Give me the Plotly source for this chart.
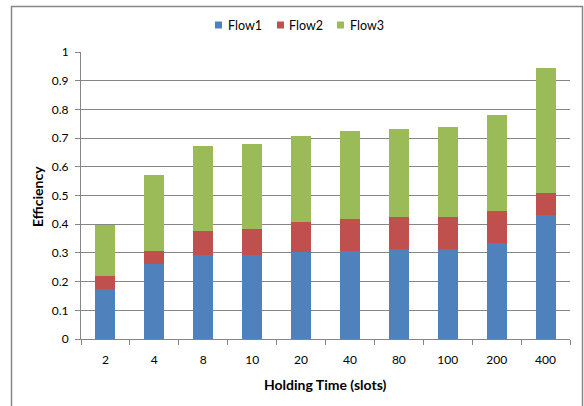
import plotly.graph_objects as go

categories = ["2", "4", "8", "10", "20", "40", "80", "100", "200", "400"]
flow1 = [0.174, 0.262, 0.294, 0.294, 0.304, 0.308, 0.312, 0.315, 0.334, 0.433]
flow2 = [0.046, 0.045, 0.083, 0.089, 0.104, 0.111, 0.113, 0.110, 0.113, 0.076]
flow3 = [0.178, 0.265, 0.297, 0.295, 0.300, 0.306, 0.307, 0.312, 0.334, 0.434]
series_names = ["Flow1", "Flow2", "Flow3"]
y_ticks = [0, 0.1, 0.2, 0.3, 0.4, 0.5, 0.6, 0.7, 0.8, 0.9, 1]
y_tick_labels = ["0", "0.1", "0.2", "0.3", "0.4", "0.5", "0.6", "0.7", "0.8", "0.9", "1"]

FONT = "Lato"
COLORS = ["#4F81BD", "#C0504D", "#9BBB59"]
W, H = 584, 406
L, R, T, B = 81, 14, 52, 67
PW, PH = W - L - R, H - T - B


def px_x(p):
    return (p - L) / PW


def px_y(p):
    return (H - B - p) / PH


fig = go.Figure()
for name, vals, col in zip(series_names, [flow1, flow2, flow3], COLORS):
    fig.add_trace(go.Bar(x=categories, y=vals, name=name, showlegend=False,
                         marker=dict(color=col, line=dict(width=0))))

# legend (Excel-style compact legend): small squares + labels
legend_sq_left = [215, 277, 337]
legend_txt_left = [226, 287, 348]
shapes = [dict(type="rect", xref="paper", yref="paper",
               x0=px_x(11.5), x1=px_x(582.5), y0=px_y(6.5), y1=px_y(412),
               line=dict(color="#868686", width=1.5), layer="below")]
annotations = [
    dict(text="<b>Holding Time (slots)</b>", xref="paper", yref="paper",
         x=px_x(325), y=px_y(384), xanchor="center", yanchor="middle",
         showarrow=False, font=dict(family=FONT, size=14)),
    dict(text="<b>Efficiency</b>", xref="paper", yref="paper",
         x=px_x(37), y=px_y(197), xanchor="center", yanchor="middle",
         textangle=-90, showarrow=False, font=dict(family=FONT, size=14)),
]
for name, col, sx, tx in zip(series_names, COLORS, legend_sq_left, legend_txt_left):
    shapes.append(dict(type="rect", xref="paper", yref="paper",
                       x0=px_x(sx), x1=px_x(sx + 7), y0=px_y(21.5), y1=px_y(28.5),
                       fillcolor=col, line=dict(width=0)))
    annotations.append(dict(text=name, xref="paper", yref="paper",
                            x=px_x(tx), y=px_y(25.5), xanchor="left", yanchor="middle",
                            showarrow=False, font=dict(family=FONT, size=12.5)))

fig.update_layout(
    width=W, height=H,
    barmode="stack", bargap=0.59,
    margin=dict(l=L, r=R, t=T, b=B, autoexpand=False),
    paper_bgcolor="white", plot_bgcolor="white",
    font=dict(family=FONT, size=12, color="#000000"),
    showlegend=False,
    xaxis=dict(type="category", showline=True, linecolor="#868686", linewidth=1,
               ticks="outside", tickson="boundaries", ticklen=5, tickcolor="#868686",
               showgrid=False, automargin=False, ticklabelstandoff=10,
               tickfont=dict(family=FONT, size=12)),
    yaxis=dict(range=[0, 1], tickvals=y_ticks, ticktext=y_tick_labels,
               showline=True, linecolor="#868686", linewidth=1,
               ticks="outside", ticklen=5, tickcolor="#868686",
               showgrid=True, gridcolor="#868686", gridwidth=1, zeroline=False,
               automargin=False, ticklabelstandoff=4,
               tickfont=dict(family=FONT, size=12)),
    annotations=annotations,
    shapes=shapes,
)

fig.write_html("out.html", config={"displayModeBar": False},
               post_script="document.body.style.margin='0';")
